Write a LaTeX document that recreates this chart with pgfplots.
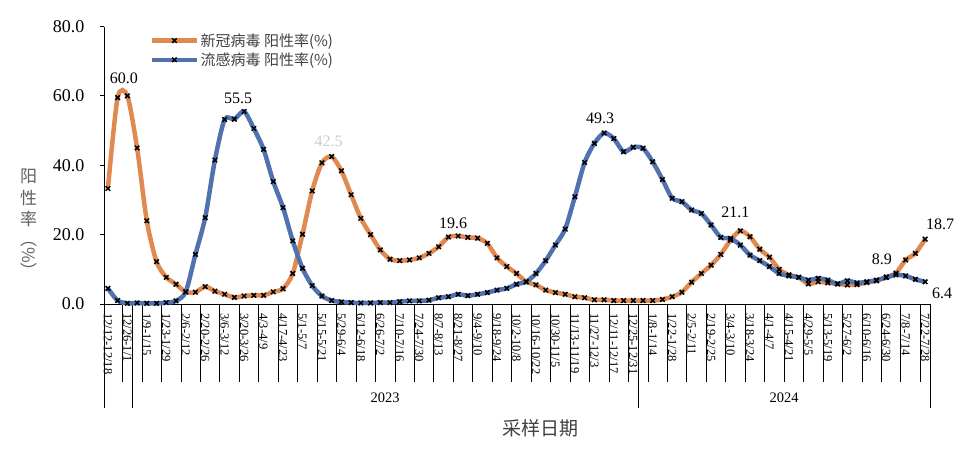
\documentclass[border=0pt]{standalone}
\usepackage{fontspec}
\setmainfont{Liberation Serif}
\newfontfamily\cjk{Noto Sans CJK SC}
\usepackage{pgfplots}
\usepackage{pgfplotstable}
\pgfplotsset{compat=1.18}
\definecolor{covid}{RGB}{224,137,80}
\definecolor{flu}{RGB}{80,114,175}
\definecolor{txtg}{RGB}{64,64,64}
\definecolor{labg}{RGB}{96,96,96}

\pgfplotstableread{
i c f
0 33.3 4.5
1 59.5 1.0
2 60.0 0.2
3 45.0 0.3
4 24.0 0.2
5 12.2 0.2
6 7.7 0.4
7 5.7 0.9
8 3.5 3.5
9 3.4 14.3
10 5.0 24.9
11 3.7 41.5
12 2.8 53.2
13 1.9 53.3
14 2.3 55.5
15 2.5 50.6
16 2.5 44.6
17 3.5 35.3
18 4.4 27.8
19 8.8 18.2
20 20.1 10.3
21 32.6 5.3
22 40.7 2.3
23 42.5 1.0
24 38.4 0.6
25 31.5 0.4
26 24.7 0.3
27 20.0 0.3
28 15.6 0.4
29 12.9 0.4
30 12.5 0.7
31 12.7 0.9
32 13.3 0.9
33 14.6 1.1
34 16.5 1.8
35 19.3 2.1
36 19.6 2.8
37 19.2 2.4
38 19.0 2.8
39 17.5 3.3
40 13.3 4.0
41 10.8 4.5
42 8.8 5.7
43 6.4 6.4
44 5.5 8.8
45 4.0 12.5
46 3.3 17.0
47 2.8 21.6
48 2.1 30.9
49 1.8 40.8
50 1.2 46.3
51 1.2 49.3
52 1.0 47.7
53 1.0 43.9
54 1.0 45.2
55 1.0 44.9
56 1.0 41.0
57 1.3 35.9
58 2.1 30.5
59 3.4 29.5
60 6.3 27.1
61 8.8 26.1
62 11.2 22.8
63 14.3 19.2
64 18.4 18.9
65 21.1 17.0
66 19.4 14.1
67 15.8 12.5
68 13.5 10.8
69 10.0 8.8
70 8.4 8.1
71 7.7 7.7
72 5.8 6.9
73 6.4 7.4
74 6.1 6.9
75 5.8 5.8
76 5.5 6.7
77 5.6 6.1
78 6.2 6.4
79 6.7 6.9
80 7.8 7.6
81 8.9 8.4
82 12.7 8.1
83 14.6 7.1
84 18.7 6.4
}\data

\begin{document}
\begin{tikzpicture}
\useasboundingbox (0,0) rectangle (970pt,451pt);
\begin{axis}[
  at={(104pt,147pt)}, anchor=south west,
  scale only axis, width=826pt, height=277.5pt,
  xmin=-0.4, xmax=84.5, ymin=0, ymax=80,
  axis x line*=bottom, axis y line*=left,
  axis line style={black, line width=0.8pt, -},
  clip=false,
  tick align=outside, major tick length=4pt,
  ytick={0,20,...,80},
  ytick style={black, line width=0.8pt},
  yticklabel style={font=\fontsize{18}{20}\selectfont, text=black, xshift=-12pt,
    /pgf/number format/.cd, fixed, fixed zerofill, precision=1, assume math mode=true},
  xtick={0,2,...,84},
  xtick style={draw=none},
  xticklabels={12/12-12/18,12/26-1/1,1/9-1/15,1/23-1/29,2/6-2/12,2/20-2/26,3/6-3/12,3/20-3/26,4/3-4/9,4/17-4/23,5/1-5/7,5/15-5/21,5/29-6/4,6/12-6/18,6/26-7/2,7/10-7/16,7/24-7/30,8/7-8/13,8/21-8/27,9/4-9/10,9/18-9/24,10/2-10/8,10/16-10/22,10/30-11/5,11/13-11/19,11/27-12/3,12/11-12/17,12/25-12/31,1/8-1/14,1/22-1/28,2/5-2/11,2/19-2/25,3/4-3/10,3/18-3/24,4/1-4/7,4/15-4/21,4/29-5/5,5/13-5/19,5/27-6/2,6/10-6/16,6/24-6/30,7/8-7/14,7/22-7/28},
  xticklabel style={rotate=-90, anchor=west, inner sep=0pt, font=\fontsize{12.5}{13}\selectfont, text=black},
  xticklabel shift=5pt,
  legend style={at={(0.052,0.99)}, anchor=north west, draw=none, fill=none,
    font=\cjk\fontsize{15}{17}\selectfont, text=txtg, row sep=1pt},
  legend cell align=left,
  legend image code/.code={\draw[mark repeat=2,mark phase=2,#1] plot coordinates {(0pt,0pt) (22pt,0pt) (44pt,0pt)};},
]
\pgfplotsextra{
  \foreach \t in {1.5,3.5,...,83.5} {\draw[black, line width=0.7pt] (axis cs:\t,0) -- ++(0pt,-78pt);}
  \foreach \t in {-0.4,2.5,54.5,84.5} {\draw[black, line width=0.7pt] (axis cs:\t,0) -- ++(0pt,-104pt);}
}
\addplot[covid, line width=4.5pt, smooth, tension=0.45, mark=x, mark size=3.2pt, mark options={black, line width=1.5pt, solid}] table[x=i, y=c] {\data};
\addlegendentry{新冠病毒 阳性率(\%)}
\addplot[flu, line width=4.5pt, smooth, tension=0.45, mark=x, mark size=3.2pt, mark options={black, line width=1.5pt, solid}] table[x=i, y=f] {\data};
\addlegendentry{流感病毒 阳性率(\%)}

\node[font=\fontsize{16}{18}\selectfont, text=black] at (axis cs:2,60) [xshift=-3.5pt, yshift=17.7pt] {60.0};
\node[font=\fontsize{16}{18}\selectfont, text=black] at (axis cs:14,55.5) [xshift=-6pt, yshift=13.5pt] {55.5};
\node[font=\fontsize{16}{18}\selectfont, text=gray!40] at (axis cs:23,42.5) [xshift=-3pt, yshift=15.6pt] {42.5};
\node[font=\fontsize{16}{18}\selectfont, text=black] at (axis cs:36,19.6) [xshift=-5pt, yshift=13pt] {19.6};
\node[font=\fontsize{16}{18}\selectfont, text=black] at (axis cs:51,49.3) [xshift=-4pt, yshift=15pt] {49.3};
\node[font=\fontsize{16}{18}\selectfont, text=black] at (axis cs:65,21.1) [xshift=-5pt, yshift=18pt] {21.1};
\node[font=\fontsize{16}{18}\selectfont, text=black] at (axis cs:81,8.9) [xshift=-14pt, yshift=14pt] {8.9};
\node[font=\fontsize{16}{18}\selectfont, text=black] at (axis cs:84,18.7) [xshift=15pt, yshift=15pt] {18.7};
\node[font=\fontsize{16}{18}\selectfont, text=black] at (axis cs:84,6.4) [xshift=17pt, yshift=-12pt] {6.4};
\end{axis}

\node[font=\cjk\fontsize{17}{17}\selectfont, text=labg] at (28.5pt,275pt) {阳};
\node[font=\cjk\fontsize{17}{17}\selectfont, text=labg] at (28.5pt,253pt) {性};
\node[font=\cjk\fontsize{17}{17}\selectfont, text=labg] at (28.5pt,232pt) {率};
\node[font=\cjk\fontsize{17}{17}\selectfont, text=labg, rotate=-90] at (28.5pt,196pt) {（\%）};

\node[font=\fontsize{14.5}{16}\selectfont, text=black] at (385pt,53pt) {2023};
\node[font=\fontsize{14.5}{16}\selectfont, text=black] at (784pt,53pt) {2024};
\node[font=\cjk\fontsize{19}{20}\selectfont, text=txtg] at (540pt,23pt) {采样日期};
\end{tikzpicture}
\end{document}
